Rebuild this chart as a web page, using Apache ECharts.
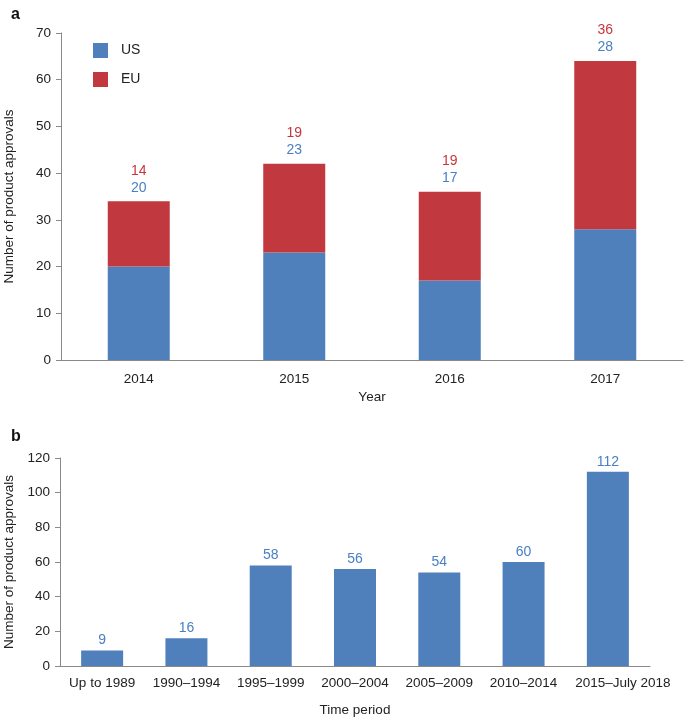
<!DOCTYPE html>
<html>
<head>
<meta charset="utf-8">
<script src="https://cdn.jsdelivr.net/npm/echarts@6/dist/echarts.min.js"></script>
<style>
	html, body { margin: 0; padding: 0; background: #fff; }
	#chart { width: 685px; height: 718px; }
</style>
</head>
<body>
<div id="chart"></div>
<script>
	// panel a: approvals per year
	var years = ['2014', '2015', '2016', '2017']
	var usValues = [20, 23, 17, 28]
	var euValues = [14, 19, 19, 36]
	var yearTicks = [0, 10, 20, 30, 40, 50, 60, 70]

	// panel b: approvals per time period
	var periods = ['Up to 1989', '1990\u20131994', '1995\u20131999', '2000\u20132004', '2005\u20132009', '2010\u20132014', '2015\u2013July 2018']
	var periodValues = [9, 16, 58, 56, 54, 60, 112]
	var periodTicks = [0, 20, 40, 60, 80, 100, 120]

	var blue = '#4f80bc'
	var red = '#c1393f'
	var labelBlue = '#4a80c2'
	var labelRed = '#c8363c'
	var axisGray = '#8a8a8a'
	var textColor = '#222'
	var font = 'Liberation Sans, Arial, Helvetica, sans-serif'

	var chart = echarts.init(document.getElementById('chart'))

	var yAxisCommon = {
		type: 'value',
		nameLocation: 'middle',
		nameTextStyle: { fontSize: 13.5, color: textColor, fontFamily: font },
		axisLine: { show: true, lineStyle: { color: axisGray, width: 1 } },
		axisTick: { show: true, length: 5, lineStyle: { color: axisGray } },
		axisLabel: { fontSize: 13.5, color: textColor, fontFamily: font, margin: 10 },
		splitLine: { show: false }
	}

	var xAxisCommon = {
		type: 'category',
		nameLocation: 'middle',
		nameTextStyle: { fontSize: 13.5, color: textColor, fontFamily: font },
		axisLine: { lineStyle: { color: axisGray, width: 1 } },
		axisTick: { show: false },
		axisLabel: { fontSize: 13.5, color: textColor, fontFamily: font, interval: 0 }
	}

	// last period label sits a bit to the right of its bar, like the original
	var periodLabels = periods.map(function (p, i) {
		if (i === periods.length - 1) {
			return { value: p, textStyle: { padding: [0, 0, 0, 30] } }
		}
		return p
	})

	chart.setOption({
		backgroundColor: '#fff',
		animation: false,
		title: [{
			text: 'a',
			left: 6,
			top: 2,
			textStyle: { fontSize: 16, fontWeight: 'bold', color: '#111', fontFamily: font }
		}, {
			text: 'b',
			left: 6,
			top: 424,
			textStyle: { fontSize: 16, fontWeight: 'bold', color: '#111', fontFamily: font }
		}],
		legend: {
			data: ['US', 'EU'],
			orient: 'vertical',
			left: 88,
			top: 38,
			icon: 'rect',
			itemWidth: 15,
			itemHeight: 15,
			itemGap: 14,
			textStyle: { fontSize: 14, color: textColor, fontFamily: font, padding: [0, 0, 0, 8] }
		},
		grid: [{
			left: 61,
			top: 33,
			width: 622,
			height: 327,
			containLabel: false,
			outerBoundsMode: 'none'
		}, {
			left: 60,
			top: 458,
			width: 590,
			height: 208,
			containLabel: false,
			outerBoundsMode: 'none'
		}],
		xAxis: [Object.assign({}, xAxisCommon, {
			gridIndex: 0,
			data: years,
			name: 'Year',
			nameGap: 30,
			axisLabel: Object.assign({}, xAxisCommon.axisLabel, { margin: 12 })
		}), Object.assign({}, xAxisCommon, {
			gridIndex: 1,
			data: periodLabels,
			name: 'Time period',
			nameGap: 37,
			axisLabel: Object.assign({}, xAxisCommon.axisLabel, { margin: 10 })
		})],
		yAxis: [Object.assign({}, yAxisCommon, {
			gridIndex: 0,
			min: yearTicks[0],
			max: yearTicks[yearTicks.length - 1],
			interval: yearTicks[1] - yearTicks[0],
			name: 'Number of product approvals',
			nameGap: 45
		}), Object.assign({}, yAxisCommon, {
			gridIndex: 1,
			min: periodTicks[0],
			max: periodTicks[periodTicks.length - 1],
			interval: periodTicks[1] - periodTicks[0],
			name: 'Number of product approvals',
			nameGap: 44
		})],
		series: [{
			name: 'US',
			type: 'bar',
			stack: 'total',
			xAxisIndex: 0,
			yAxisIndex: 0,
			barWidth: 62,
			itemStyle: { color: blue },
			data: usValues
		}, {
			name: 'EU',
			type: 'bar',
			stack: 'total',
			xAxisIndex: 0,
			yAxisIndex: 0,
			barWidth: 62,
			itemStyle: { color: red },
			label: {
				show: true,
				position: 'top',
				distance: 5,
				fontFamily: font,
				formatter: function (p) {
					return '{eu|' + euValues[p.dataIndex] + '}\n{us|' + usValues[p.dataIndex] + '}'
				},
				rich: {
					eu: { color: labelRed, fontSize: 14, lineHeight: 17, fontFamily: font },
					us: { color: labelBlue, fontSize: 14, lineHeight: 17, fontFamily: font }
				}
			},
			data: euValues
		}, {
			name: 'Approvals',
			type: 'bar',
			xAxisIndex: 1,
			yAxisIndex: 1,
			barWidth: 42,
			itemStyle: { color: blue },
			label: {
				show: true,
				position: 'top',
				distance: 3,
				color: labelBlue,
				fontSize: 14,
				fontFamily: font
			},
			data: periodValues
		}]
	})
</script>
</body>
</html>
